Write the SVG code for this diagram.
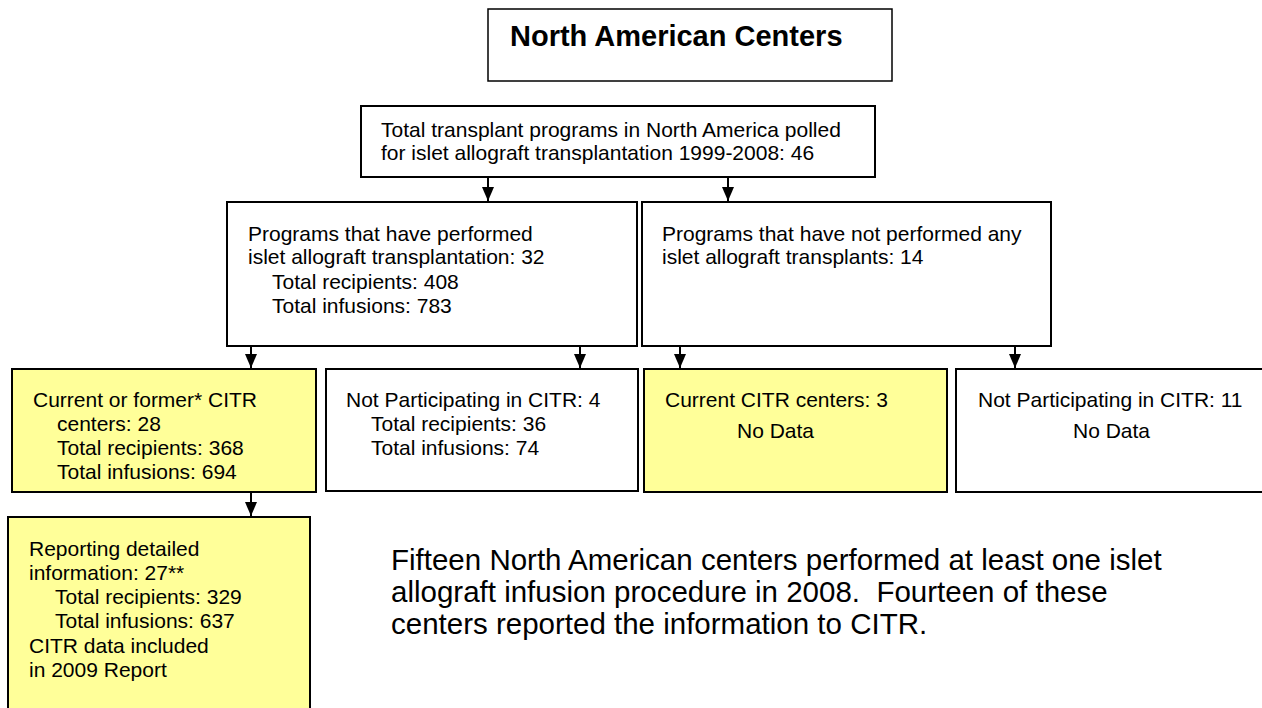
<svg xmlns="http://www.w3.org/2000/svg" width="1262" height="708" viewBox="0 0 1262 708">
  <defs>
    <marker id="arrow" viewBox="0 0 14 14" refX="14" refY="7" markerWidth="14" markerHeight="14" markerUnits="userSpaceOnUse" orient="auto">
      <path d="M0,1 L14,7 L0,13 z" fill="#000"/>
    </marker>
    <style>
      .box { fill: #ffffff; stroke: #000; stroke-width: 2; }
      .hl { fill: #ffff99; stroke: #000; stroke-width: 2; }
      .t { font-family: "Liberation Sans", Arial, sans-serif; font-size: 21px; fill: #000; }
      .title { font-family: "Liberation Sans", Arial, sans-serif; font-size: 29px; font-weight: bold; fill: #000; }
      .para { font-family: "Liberation Sans", Arial, sans-serif; font-size: 29.5px; fill: #000; white-space: pre; }
      .conn { stroke: #000; stroke-width: 2; fill: none; marker-end: url(#arrow); }
    </style>
  </defs>
  <rect width="1262" height="708" fill="#ffffff"/>

  <g id="title">
    <rect x="488" y="9" width="404" height="72" fill="#fff" stroke="#000" stroke-width="1.5"/>
    <text class="title" x="510" y="46">North American Centers</text>
  </g>

  <g id="polled">
    <rect class="box" x="361" y="106" width="514" height="71"/>
    <text class="t" x="381" y="137">Total transplant programs in North America polled</text>
    <text class="t" x="381" y="160">for islet allograft transplantation 1999-2008: 46</text>
  </g>

  <g id="performed">
    <rect class="box" x="227" y="202" width="410" height="144"/>
    <text class="t" x="248" y="241">Programs that have performed</text>
    <text class="t" x="248" y="264">islet allograft transplantation: 32</text>
    <text class="t" x="272" y="289">Total recipients: 408</text>
    <text class="t" x="272" y="313">Total infusions: 783</text>
  </g>

  <g id="not-performed">
    <rect class="box" x="642" y="202" width="409" height="144"/>
    <text class="t" x="662" y="241">Programs that have not performed any</text>
    <text class="t" x="662" y="264">islet allograft transplants: 14</text>
  </g>

  <g id="citr-centers">
    <rect class="hl" x="12" y="369" width="304" height="123"/>
    <text class="t" x="33" y="407">Current or former* CITR</text>
    <text class="t" x="57" y="431">centers: 28</text>
    <text class="t" x="57" y="455">Total recipients: 368</text>
    <text class="t" x="57" y="479">Total infusions: 694</text>
  </g>

  <g id="not-participating-4">
    <rect class="box" x="326" y="369" width="312" height="122"/>
    <text class="t" x="346" y="407">Not Participating in CITR: 4</text>
    <text class="t" x="371" y="431">Total recipients: 36</text>
    <text class="t" x="371" y="455">Total infusions: 74</text>
  </g>

  <g id="current-citr">
    <rect class="hl" x="644" y="369" width="303" height="123"/>
    <text class="t" x="665" y="407">Current CITR centers: 3</text>
    <text class="t" x="737" y="438">No Data</text>
  </g>

  <g id="not-participating-11">
    <rect class="box" x="956" y="369" width="320" height="123"/>
    <text class="t" x="978" y="407">Not Participating in CITR: 11</text>
    <text class="t" x="1073" y="438">No Data</text>
  </g>

  <g id="reporting">
    <rect class="hl" x="8" y="517" width="302" height="200"/>
    <text class="t" x="29" y="556">Reporting detailed</text>
    <text class="t" x="29" y="580">information: 27**</text>
    <text class="t" x="55" y="604">Total recipients: 329</text>
    <text class="t" x="55" y="628">Total infusions: 637</text>
    <text class="t" x="29" y="653">CITR data included</text>
    <text class="t" x="29" y="677">in 2009 Report</text>
  </g>

  <g id="note">
    <text class="para" x="391" y="570">Fifteen North American centers performed at least one islet</text>
    <text class="para" x="391" y="602">allograft infusion procedure in 2008.  Fourteen of these</text>
    <text class="para" x="391" y="634">centers reported the information to CITR.</text>
  </g>

  <g id="connectors">
    <line class="conn" x1="488" y1="177" x2="488" y2="201"/>
    <line class="conn" x1="728" y1="177" x2="728" y2="201"/>
    <line class="conn" x1="251" y1="346" x2="251" y2="368"/>
    <line class="conn" x1="580" y1="346" x2="580" y2="368"/>
    <line class="conn" x1="680" y1="346" x2="680" y2="368"/>
    <line class="conn" x1="1015" y1="346" x2="1015" y2="368"/>
    <line class="conn" x1="251" y1="492" x2="251" y2="516"/>
  </g>
</svg>
